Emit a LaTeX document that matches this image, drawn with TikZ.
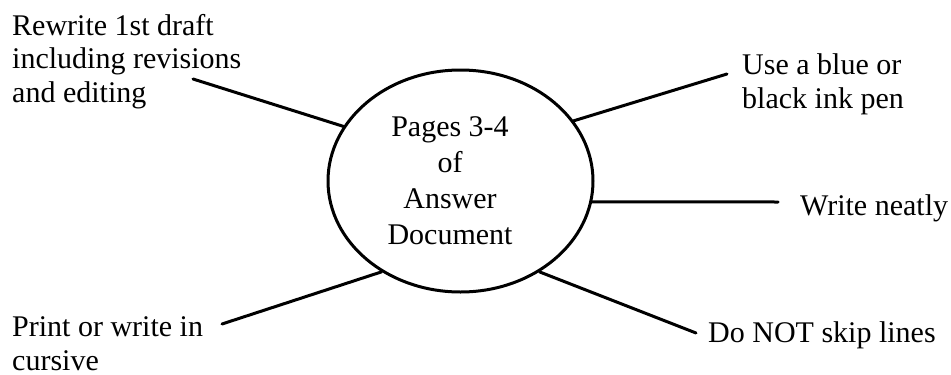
\documentclass[tikz,border=0pt]{standalone}
\usepackage{fontspec}
\setmainfont{Liberation Serif}
\usetikzlibrary{shapes.geometric}
\begin{document}
\begin{tikzpicture}[x=1pt,y=-1pt,
  lbl/.style={inner sep=0pt,anchor=base west,align=left,font=\fontsize{30}{33.5}\selectfont},
  ctr/.style={inner sep=0pt,anchor=base,align=center,font=\fontsize{30}{36}\selectfont},
  conn/.style={line width=3pt,line cap=round},
  oval/.style={ellipse,draw,line width=3pt,minimum width=265pt,minimum height=222pt,inner sep=0pt}]
\useasboundingbox (0,0) rectangle (951,375);
\node[oval] (E) at (460.5,181) {};
\node[ctr] (T) at (450,244) {Pages 3-4\\of\\Answer\\Document};
\node[lbl] (L1) at (12,102) {Rewrite 1st draft\\including revisions\\and editing};
\node[lbl] (R1) at (742,108) {Use a blue or\\black ink pen};
\node[lbl] (R2) at (800,215) {Write neatly};
\node[lbl] (L2) at (12,370) {Print or write in\\cursive};
\node[lbl] (R3) at (708,342) {Do NOT skip lines};
\coordinate (cL1) at (193,79);
\coordinate (cR1) at (727,74);
\coordinate (cR2) at (778,202);
\coordinate (cL2) at (222,324);
\coordinate (cR3) at (696,333);
\draw[conn] (E.155.3) -- (cL1);
\draw[conn] (E.28.9) -- (cR1);
\draw[conn] (E.-9) -- (cR2);
\draw[conn] (E.-131.5) -- (cL2);
\draw[conn] (E.-49.1) -- (cR3);
\end{tikzpicture}
\end{document}
